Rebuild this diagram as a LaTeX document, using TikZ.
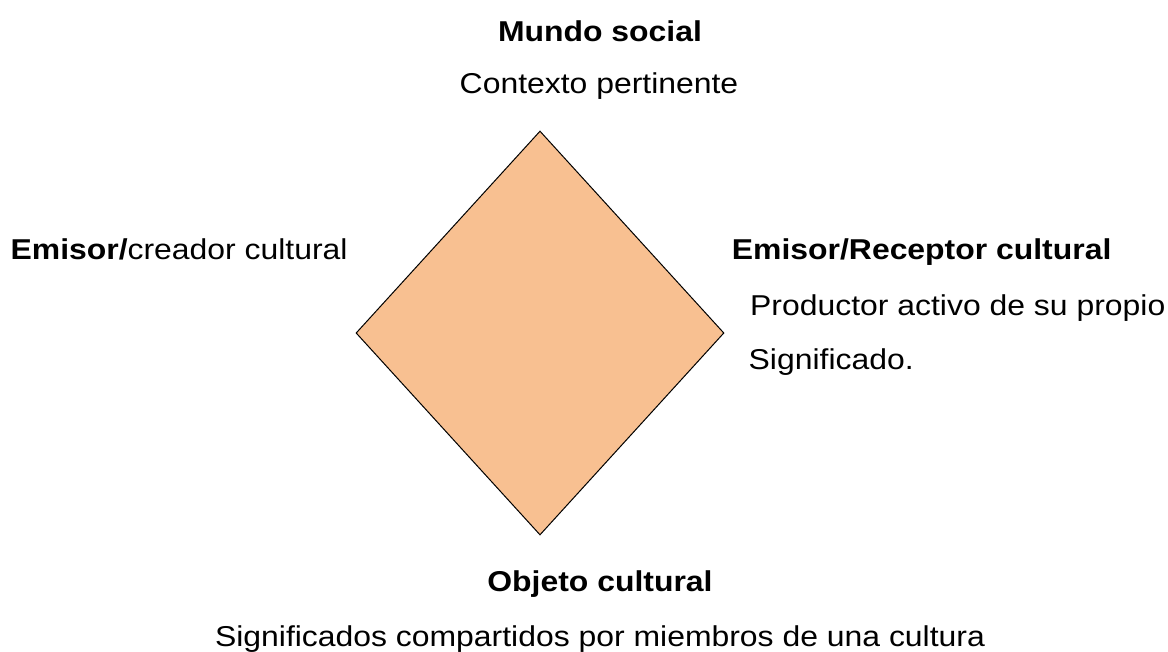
\documentclass[tikz,border=0pt]{standalone}
\usepackage{fontspec}
\setmainfont{Liberation Sans}[FakeStretch=1.112]
\usetikzlibrary{shapes.geometric}
\definecolor{peach}{HTML}{F8C091}
\begin{document}
\begin{tikzpicture}[x=1pt,y=-1pt,
  txt/.style={inner sep=0pt,font=\fontsize{28.7}{34}\selectfont},
  boldtxt/.style={txt,font=\fontsize{28.7}{34}\selectfont\bfseries},
  shapebox/.style={diamond,draw=black,line width=1pt,fill=peach,inner sep=0pt,
    minimum width=368pt,minimum height=404pt,aspect=0.911}]
\useasboundingbox (0,0) rectangle (1168,651);
\node[shapebox] (dia) at (540,333) {};
\node[boldtxt,anchor=base] (mundo) at (600,41) {Mundo social};
\node[txt,anchor=base] (contexto) at (599,93) {Contexto pertinente};
\node[txt,anchor=base west] (emisor) at (10.4,259) {\textbf{Emisor/}creador cultural};
\node[boldtxt,anchor=base west] (receptor) at (731.7,259) {Emisor/Receptor cultural};
\node[txt,anchor=base west] (productor) at (750,315.7) {Productor activo de su propio};
\node[txt,anchor=base west] (signif) at (748.5,369) {Significado.};
\node[boldtxt,anchor=base] (objeto) at (600,591.7) {Objeto cultural};
\node[txt,anchor=base] (compart) at (600,646) {Significados compartidos por miembros de una cultura};
\end{tikzpicture}
\end{document}
